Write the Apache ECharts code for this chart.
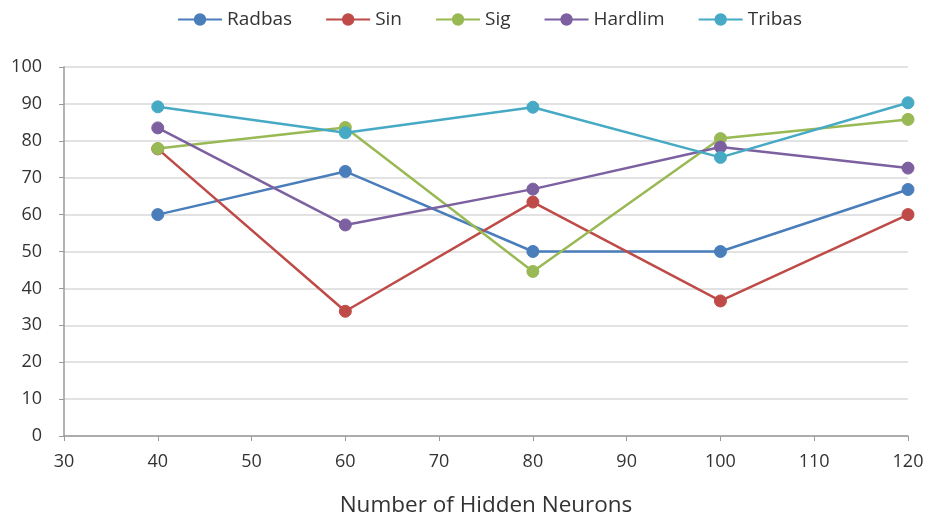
<!DOCTYPE html>
<html>
<head>
<meta charset="utf-8">
<script src="https://cdn.jsdelivr.net/npm/echarts@6/dist/echarts.min.js"></script>
<style>
  html, body { margin: 0; padding: 0; background: #fff; }
  #chart { width: 936px; height: 522px; }
</style>
</head>
<body>
<div id="chart"></div>
<script>
// Hidden neuron counts tested
const neurons = [40, 60, 80, 100, 120];

// Accuracy (%) for each activation function
const radbas  = [60.0, 71.7, 50.0, 50.0, 66.8];
const sin     = [77.8, 33.8, 63.4, 36.6, 60.0];
const sig     = [77.9, 83.6, 44.6, 80.6, 85.8];
const hardlim = [83.5, 57.2, 66.9, 78.3, 72.6];
const tribas  = [89.2, 82.2, 89.1, 75.5, 90.3];

const seriesNames  = ['Radbas', 'Sin', 'Sig', 'Hardlim', 'Tribas'];
const seriesValues = [radbas, sin, sig, hardlim, tribas];
const seriesColors = ['#4a7ebb', '#be4b48', '#98b954', '#7d60a0', '#46aac5'];

const FONT = '"Open Sans", "DejaVu Sans", sans-serif';

const chart = echarts.init(document.getElementById('chart'), null, { renderer: 'canvas' });

chart.setOption({
  animation: false,
  backgroundColor: '#ffffff',
  textStyle: { fontFamily: FONT },
  legend: {
    top: 5,
    left: 172,
    itemWidth: 44,
    itemHeight: 13,
    itemGap: 33,
    textStyle: { fontSize: 19, color: '#333333', fontFamily: FONT },
    data: seriesNames
  },
  grid: { left: 64, right: 28, top: 67, bottom: 83, containLabel: false },
  xAxis: {
    type: 'value',
    min: 30,
    max: 120,
    interval: 10,
    name: 'Number of Hidden Neurons',
    nameLocation: 'middle',
    nameGap: 58,
    nameTextStyle: { fontSize: 22.5, color: '#333333', fontFamily: FONT },
    axisLine: { lineStyle: { color: '#9a9a9a', width: 1.5 } },
    axisTick: { show: true, length: 5, inside: false, lineStyle: { color: '#9a9a9a' } },
    axisLabel: { fontSize: 18, color: '#333333', margin: 17, fontFamily: FONT },
    splitLine: { show: false }
  },
  yAxis: {
    type: 'value',
    min: 0,
    max: 100,
    interval: 10,
    axisLine: { show: true, lineStyle: { color: '#9a9a9a', width: 1.5 } },
    axisTick: { show: true, length: 5, lineStyle: { color: '#9a9a9a' } },
    axisLabel: { fontSize: 18, color: '#333333', margin: 22, fontFamily: FONT },
    splitLine: { show: true, lineStyle: { color: '#d9d9d9', width: 1.5 } }
  },
  series: seriesNames.map((name, i) => ({
    name: name,
    type: 'line',
    data: neurons.map((n, j) => [n, seriesValues[i][j]]),
    symbol: 'circle',
    symbolSize: 12,
    color: seriesColors[i],
    lineStyle: { width: 2.5, color: seriesColors[i] },
    itemStyle: { color: seriesColors[i], borderColor: seriesColors[i], borderWidth: 1 },
    emphasis: { disabled: true }
  }))
});
</script>
</body>
</html>
